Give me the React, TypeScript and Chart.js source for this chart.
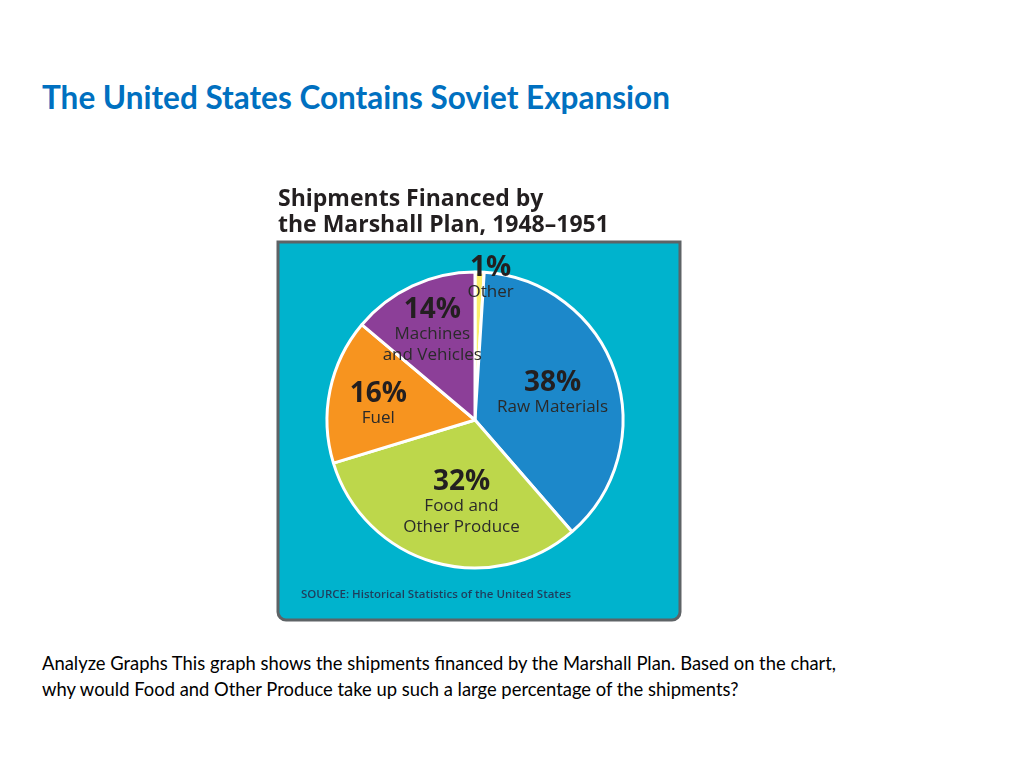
import React, { useEffect, useRef } from "react";
import { Chart, registerables } from "chart.js";

Chart.register(...registerables);

// ---- Data ----
const categories = ["Other", "Raw Materials", "Food and Other Produce", "Fuel", "Machines and Vehicles"];
const shares = [1, 38, 32, 16, 14];
const labelLines = [["Other"], ["Raw Materials"], ["Food and", "Other Produce"], ["Fuel"], ["Machines", "and Vehicles"]];
const sliceColors = ["#FBEE6B", "#1C88CA", "#BDD74B", "#F7941F", "#8C3F98"];
const chartTitleLines = ["Shipments Financed by", "the Marshall Plan, 1948\u20131951"];
const sourceText = "SOURCE: Historical Statistics of the United States";
const pageTitle = "The United States Contains Soviet Expansion";
const questionLines = [
  "Analyze Graphs This graph shows the shipments financed by the Marshall Plan. Based on the chart,",
  "why would Food and Other Produce take up such a large percentage of the shipments?",
];

// label placement (fraction of radius, angular nudge in degrees)
const labelPlacement = [
  { frac: 0.95, nudge: 4.6 },
  { frac: 0.55, nudge: 1 },
  { frac: 0.58, nudge: -7 },
  { frac: 0.66, nudge: -3.5 },
  { frac: 0.66, nudge: -1 },
];

const FONT = "'Open Sans', 'Noto Sans', sans-serif";

const panelPlugin = {
  id: "panel",
  beforeDraw(chart: any) {
    const { ctx, chartArea } = chart;
    const x0 = 8, x1 = 410, y0 = chartArea.top, y1 = 440;
    ctx.save();
    ctx.beginPath();
    (ctx as any).roundRect(x0, y0, x1 - x0, y1 - y0, [0, 0, 8, 8]);
    ctx.fillStyle = "#00B3CD";
    ctx.fill();
    ctx.lineWidth = 3;
    ctx.strokeStyle = "#5E6366";
    ctx.stroke();
    ctx.fillStyle = "#1F3D5C";
    ctx.font = `600 11.5px ${FONT}`;
    ctx.textAlign = "left";
    ctx.textBaseline = "middle";
    ctx.fillText(sourceText, 31, 415);
    ctx.restore();
  },
};

const labelPlugin = {
  id: "sliceLabels",
  afterDatasetsDraw(chart: any) {
    const { ctx } = chart;
    const meta = chart.getDatasetMeta(0);
    ctx.save();
    ctx.textAlign = "center";
    ctx.textBaseline = "middle";
    meta.data.forEach((arc: any, i: number) => {
      const p = arc.getProps(["x", "y", "startAngle", "endAngle", "outerRadius"], true);
      const place = labelPlacement[i];
      const mid = (p.startAngle + p.endAngle) / 2 + (place.nudge * Math.PI) / 180;
      const r = p.outerRadius * place.frac;
      const ax = p.x + Math.cos(mid) * r;
      const ay = p.y + Math.sin(mid) * r;
      const lines = labelLines[i];
      const gaps = [24, ...lines.slice(1).map(() => 21)];
      const total = gaps.reduce((a, b) => a + b, 0);
      let y = ay - total / 2;
      ctx.fillStyle = "#231F20";
      ctx.font = `700 28px ${FONT}`;
      ctx.fillText(`${shares[i]}%`, ax, y);
      ctx.font = `400 17px ${FONT}`;
      ctx.fillStyle = "#2A2A2A";
      lines.forEach((ln, k) => {
        y += gaps[k];
        ctx.fillText(ln, ax, y);
      });
    });
    ctx.restore();
  },
};

export default function App() {
  const ref = useRef<HTMLCanvasElement | null>(null);
  useEffect(() => {
    if (!ref.current) return;
    const chart = new Chart(ref.current, {
      type: "pie",
      data: {
        labels: categories,
        datasets: [
          {
            data: shares,
            backgroundColor: sliceColors,
            borderColor: "#FFFFFF",
            borderWidth: 3,
            radius: 148,
          } as any,
        ],
      },
      options: {
        responsive: false,
        maintainAspectRatio: false,
        animation: false,
        layout: { padding: { left: 8, right: 18, top: 0, bottom: 32 } },
        plugins: {
          legend: { display: false },
          tooltip: { enabled: false },
          title: {
            display: true,
            text: chartTitleLines,
            align: "start",
            color: "#231F20",
            font: { family: FONT, size: 23, weight: "bold", lineHeight: 26 / 23 },
            padding: { top: 6, bottom: 4 },
          },
        },
      },
      plugins: [panelPlugin, labelPlugin],
    });
    return () => chart.destroy();
  }, []);

  return (
    <div style={{ position: "absolute", left: 0, top: 0, width: 1024, height: 768, background: "#fff" }}>
      <div
        style={{
          position: "absolute",
          left: 42,
          top: 77,
          fontFamily: "Lato, sans-serif",
          fontWeight: 700,
          fontSize: 31.5,
          lineHeight: "40px",
          color: "#0070C0",
          whiteSpace: "nowrap",
        }}
      >
        {pageTitle}
      </div>
      <canvas
        ref={ref}
        width={420}
        height={450}
        style={{ position: "absolute", left: 270, top: 180, width: 420, height: 450 }}
      />
      <div
        style={{
          position: "absolute",
          left: 42,
          top: 650,
          fontFamily: "Lato, sans-serif",
          fontSize: 18.4,
          lineHeight: "26px",
          color: "#000",
          whiteSpace: "nowrap",
        }}
      >
        {questionLines.map((l, i) => (
          <div key={i}>{l}</div>
        ))}
      </div>
    </div>
  );
}
